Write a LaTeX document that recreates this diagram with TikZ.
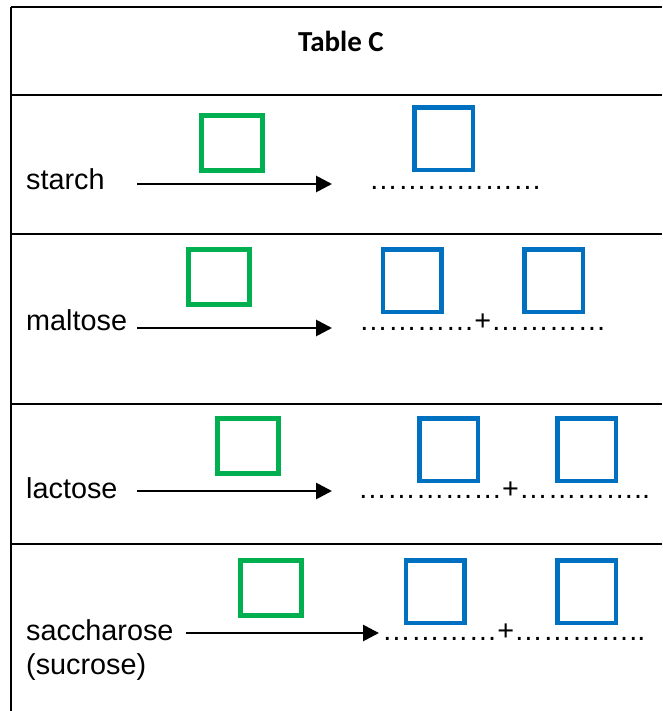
\documentclass[tikz,border=0pt]{standalone}
\usepackage{fontspec}
\setmainfont{Liberation Sans}
\newfontfamily\hdrfont{Carlito}
\usetikzlibrary{arrows.meta}
\definecolor{boxgreen}{HTML}{00B050}
\definecolor{boxblue}{HTML}{0070C0}
\tikzset{
  rule/.style={line width=2.5pt, black},
  gbox/.style={draw=boxgreen, line width=5pt, minimum width=61pt, minimum height=55pt, inner sep=0pt},
  bbox/.style={draw=boxblue, line width=4.5pt, minimum width=58.5pt, minimum height=62.5pt, inner sep=0pt},
  lbl/.style={anchor=base west, inner sep=0pt, font=\fontsize{28.8}{34}\selectfont},
  rxn/.style={line width=2.8pt, -{Triangle[length=16pt,width=16pt]}}
}
\begin{document}
\begin{tikzpicture}[x=1pt,y=-1pt]
\useasboundingbox (0,0) rectangle (662,711);
% table rules
\coordinate (tl) at (11,7);
\coordinate (bl) at (11,711);
\coordinate (tr) at (662,7);
\draw[rule] (tl) -- (tr);
\draw[rule] (tl) -- (bl);
\foreach \yy/\nm in {95/ra,234/rb,404/rc,544/rd}{
  \coordinate (\nm l) at (11,\yy);
  \coordinate (\nm r) at (662,\yy);
  \draw[rule] (\nm l) -- (\nm r);
}
% header
\node[anchor=base, inner sep=0pt, font=\hdrfont\bfseries\fontsize{29}{34}\selectfont] (title) at (341,52) {Table C};

% row 1
\node[lbl] (starch) at (26,190) {starch};
\coordinate (a1s) at (137,184);
\coordinate (a1e) at (332,184);
\draw[rxn] (a1s) -- (a1e);
\node[gbox] (g1) at (231.5,143) {};
\node[bbox] (b1) at (443.5,139) {};
\node[lbl] (d1) at (369,190) {………………};

% row 2
\node[lbl] (maltose) at (26,330) {maltose};
\coordinate (a2s) at (137,328);
\coordinate (a2e) at (332,328);
\draw[rxn] (a2s) -- (a2e);
\node[gbox] (g2) at (219,277) {};
\node[bbox] (b2a) at (412,280.5) {};
\node[bbox] (b2b) at (553.5,280.5) {};
\node[lbl] (d2) at (359,330) {…………+…………};

% row 3
\node[lbl] (lactose) at (26,498) {lactose};
\coordinate (a3s) at (137,491);
\coordinate (a3e) at (332,491);
\draw[rxn] (a3s) -- (a3e);
\node[gbox] (g3) at (248,445.5) {};
\node[bbox] (b3a) at (448.5,449.5) {};
\node[bbox] (b3b) at (586.5,449.5) {};
\node[lbl] (d3) at (358,498) {……………+…………..};

% row 4
\node[lbl] (sacch) at (26,640) {saccharose};
\node[lbl] (sucr) at (26,674) {(sucrose)};
\coordinate (a4s) at (186,633);
\coordinate (a4e) at (379,633);
\draw[rxn] (a4s) -- (a4e);
\node[gbox] (g4) at (271,587.5) {};
\node[bbox] (b4a) at (435,591.5) {};
\node[bbox] (b4b) at (586.5,591.5) {};
\node[lbl] (d4) at (382,640) {…………+…………..};
\end{tikzpicture}
\end{document}
